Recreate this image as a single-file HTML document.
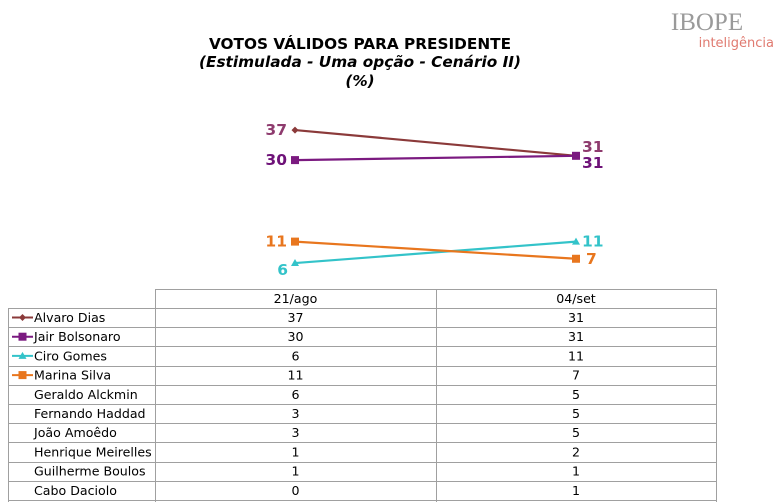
<!DOCTYPE html>
<html><head><meta charset="utf-8"><style>
html,body{margin:0;padding:0;background:#fff;}
svg{display:block;font-family:"DejaVu Sans","Liberation Sans",sans-serif;}
</style></head><body>
<svg id="c" width="784" height="502" xmlns="http://www.w3.org/2000/svg">
<g>
<text x="707" y="30" text-anchor="middle" font-family="Liberation Serif,serif" font-size="25" fill="#9a9a9a">IBOPE</text>
<text x="774" y="47" text-anchor="end" font-size="13" fill="#e07a70">inteligência</text>
</g>
<g font-weight="bold" text-anchor="middle" fill="#000">
<text x="360" y="49" font-size="15.3">VOTOS VÁLIDOS PARA PRESIDENTE</text>
<text x="360" y="67" font-size="15.3" font-style="italic">(Estimulada - Uma opção - Cenário II)</text>
<text x="360" y="86" font-size="15.3" font-style="italic">(%)</text>
</g>
<g id="plot"></g>
<g id="tbl"></g>
</svg>
<script>
const dates=["21/ago","04/set"];
const names=["Alvaro Dias","Jair Bolsonaro","Ciro Gomes","Marina Silva","Geraldo Alckmin","Fernando Haddad","João Amoêdo","Henrique Meirelles","Guilherme Boulos","Cabo Daciolo"];
const v1=[37,30,6,11,6,3,3,1,1,0];
const v2=[31,31,11,7,5,5,5,2,1,1];
const NS="http://www.w3.org/2000/svg";
function mk(t,a,p){const e=document.createElementNS(NS,t);for(const k in a)e.setAttribute(k,a[k]);p.appendChild(e);return e;}
const xs=i=>295+i*281;
const ys=v=>288.8-v*4.29;
const lineC=["#8b3a3a","#7b1a80","#33c3c9","#e8761e"];
const labC=["#8e3b6e","#6e1278","#33c3c9","#e8761e"];
const markers=["diamond","square","triangle","square"];
const plot=document.getElementById('plot');
function marker(type,x,y,col,g){
 let e;
 if(type==="diamond")e=mk('polygon',{points:`${x},${y-3.5} ${x+3.5},${y} ${x},${y+3.5} ${x-3.5},${y}`,fill:col},g);
 else if(type==="square")e=mk('rect',{x:x-4,y:y-4,width:8,height:8,fill:col},g);
 else e=mk('polygon',{points:`${x},${y-4} ${x+4},${y+3} ${x-4},${y+3}`,fill:col},g);
 
 
}
for(let s=0;s<4;s++){
 const g=mk('g',{},plot);
 
 
 const ln=mk('line',{x1:xs(0),y1:ys(v1[s]),x2:xs(1),y2:ys(v2[s]),stroke:lineC[s],'stroke-width':2.2},g);
 
 
 marker(markers[s],xs(0),ys(v1[s]),lineC[s],g);
 marker(markers[s],xs(1),ys(v2[s]),lineC[s],g);
 const leftOff=s===2?[-7,12]:[-8,5];
 const t1=mk('text',{x:xs(0)+leftOff[0],y:ys(v1[s])+leftOff[1],'text-anchor':'end','font-size':15.5,'font-weight':'bold',fill:labC[s]},g);
 t1.textContent=v1[s];
 
 
 const ro=s===0?-4:(s===1?12:5);
 const t2=mk('text',{x:xs(1)+(s===3?10:6),y:ys(v2[s])+ro,'font-size':15.5,'font-weight':'bold',fill:labC[s]},g);
 t2.textContent=v2[s];
 
 
}
const tbl=document.getElementById('tbl');


const L=8,C0=155,C1=436,C2=716,top0=289,hh=19,rh=19.2;
const gc="#a0a0a0";
function ln(x1,y1,x2,y2){const e=mk('line',{x1,y1,x2,y2,stroke:gc,'stroke-width':1},tbl);}
ln(C0,top0+.5,C2,top0+.5);
ln(C0+.5,top0,C0+.5,502);ln(C1+.5,top0,C1+.5,502);ln(C2+.5,top0,C2+.5,502);
ln(L+.5,top0+hh,L+.5,502);
for(let i=0;i<=names.length;i++){const y=Math.round(top0+hh+i*rh)+.5;ln(L,y,C2,y);}
dates.forEach((d,i)=>{const t=mk('text',{x:(i?C1+C2:C0+C1)/2,y:top0+14,'text-anchor':'middle','font-size':12.6,fill:'#000'},tbl);t.textContent=d;});
names.forEach((n,i)=>{
 const y=top0+hh+i*rh+14;
 if(i<4){
  const g=mk('g',{},tbl);
  
  
  mk('line',{x1:12,y1:y-4.5,x2:33,y2:y-4.5,stroke:lineC[i],'stroke-width':2},g);
  marker(markers[i],22.5,y-4.5,lineC[i],g);
 }
 const t=mk('text',{x:34,y,'font-size':12.6,fill:'#000'},tbl);t.textContent=n;
 
 
 [v1[i],v2[i]].forEach((v,j)=>{const c=mk('text',{x:j?(C1+C2)/2:(C0+C1)/2,y,'text-anchor':'middle','font-size':12.6,fill:'#000'},tbl);c.textContent=v;
 
 });
});
</script>
</body></html>
